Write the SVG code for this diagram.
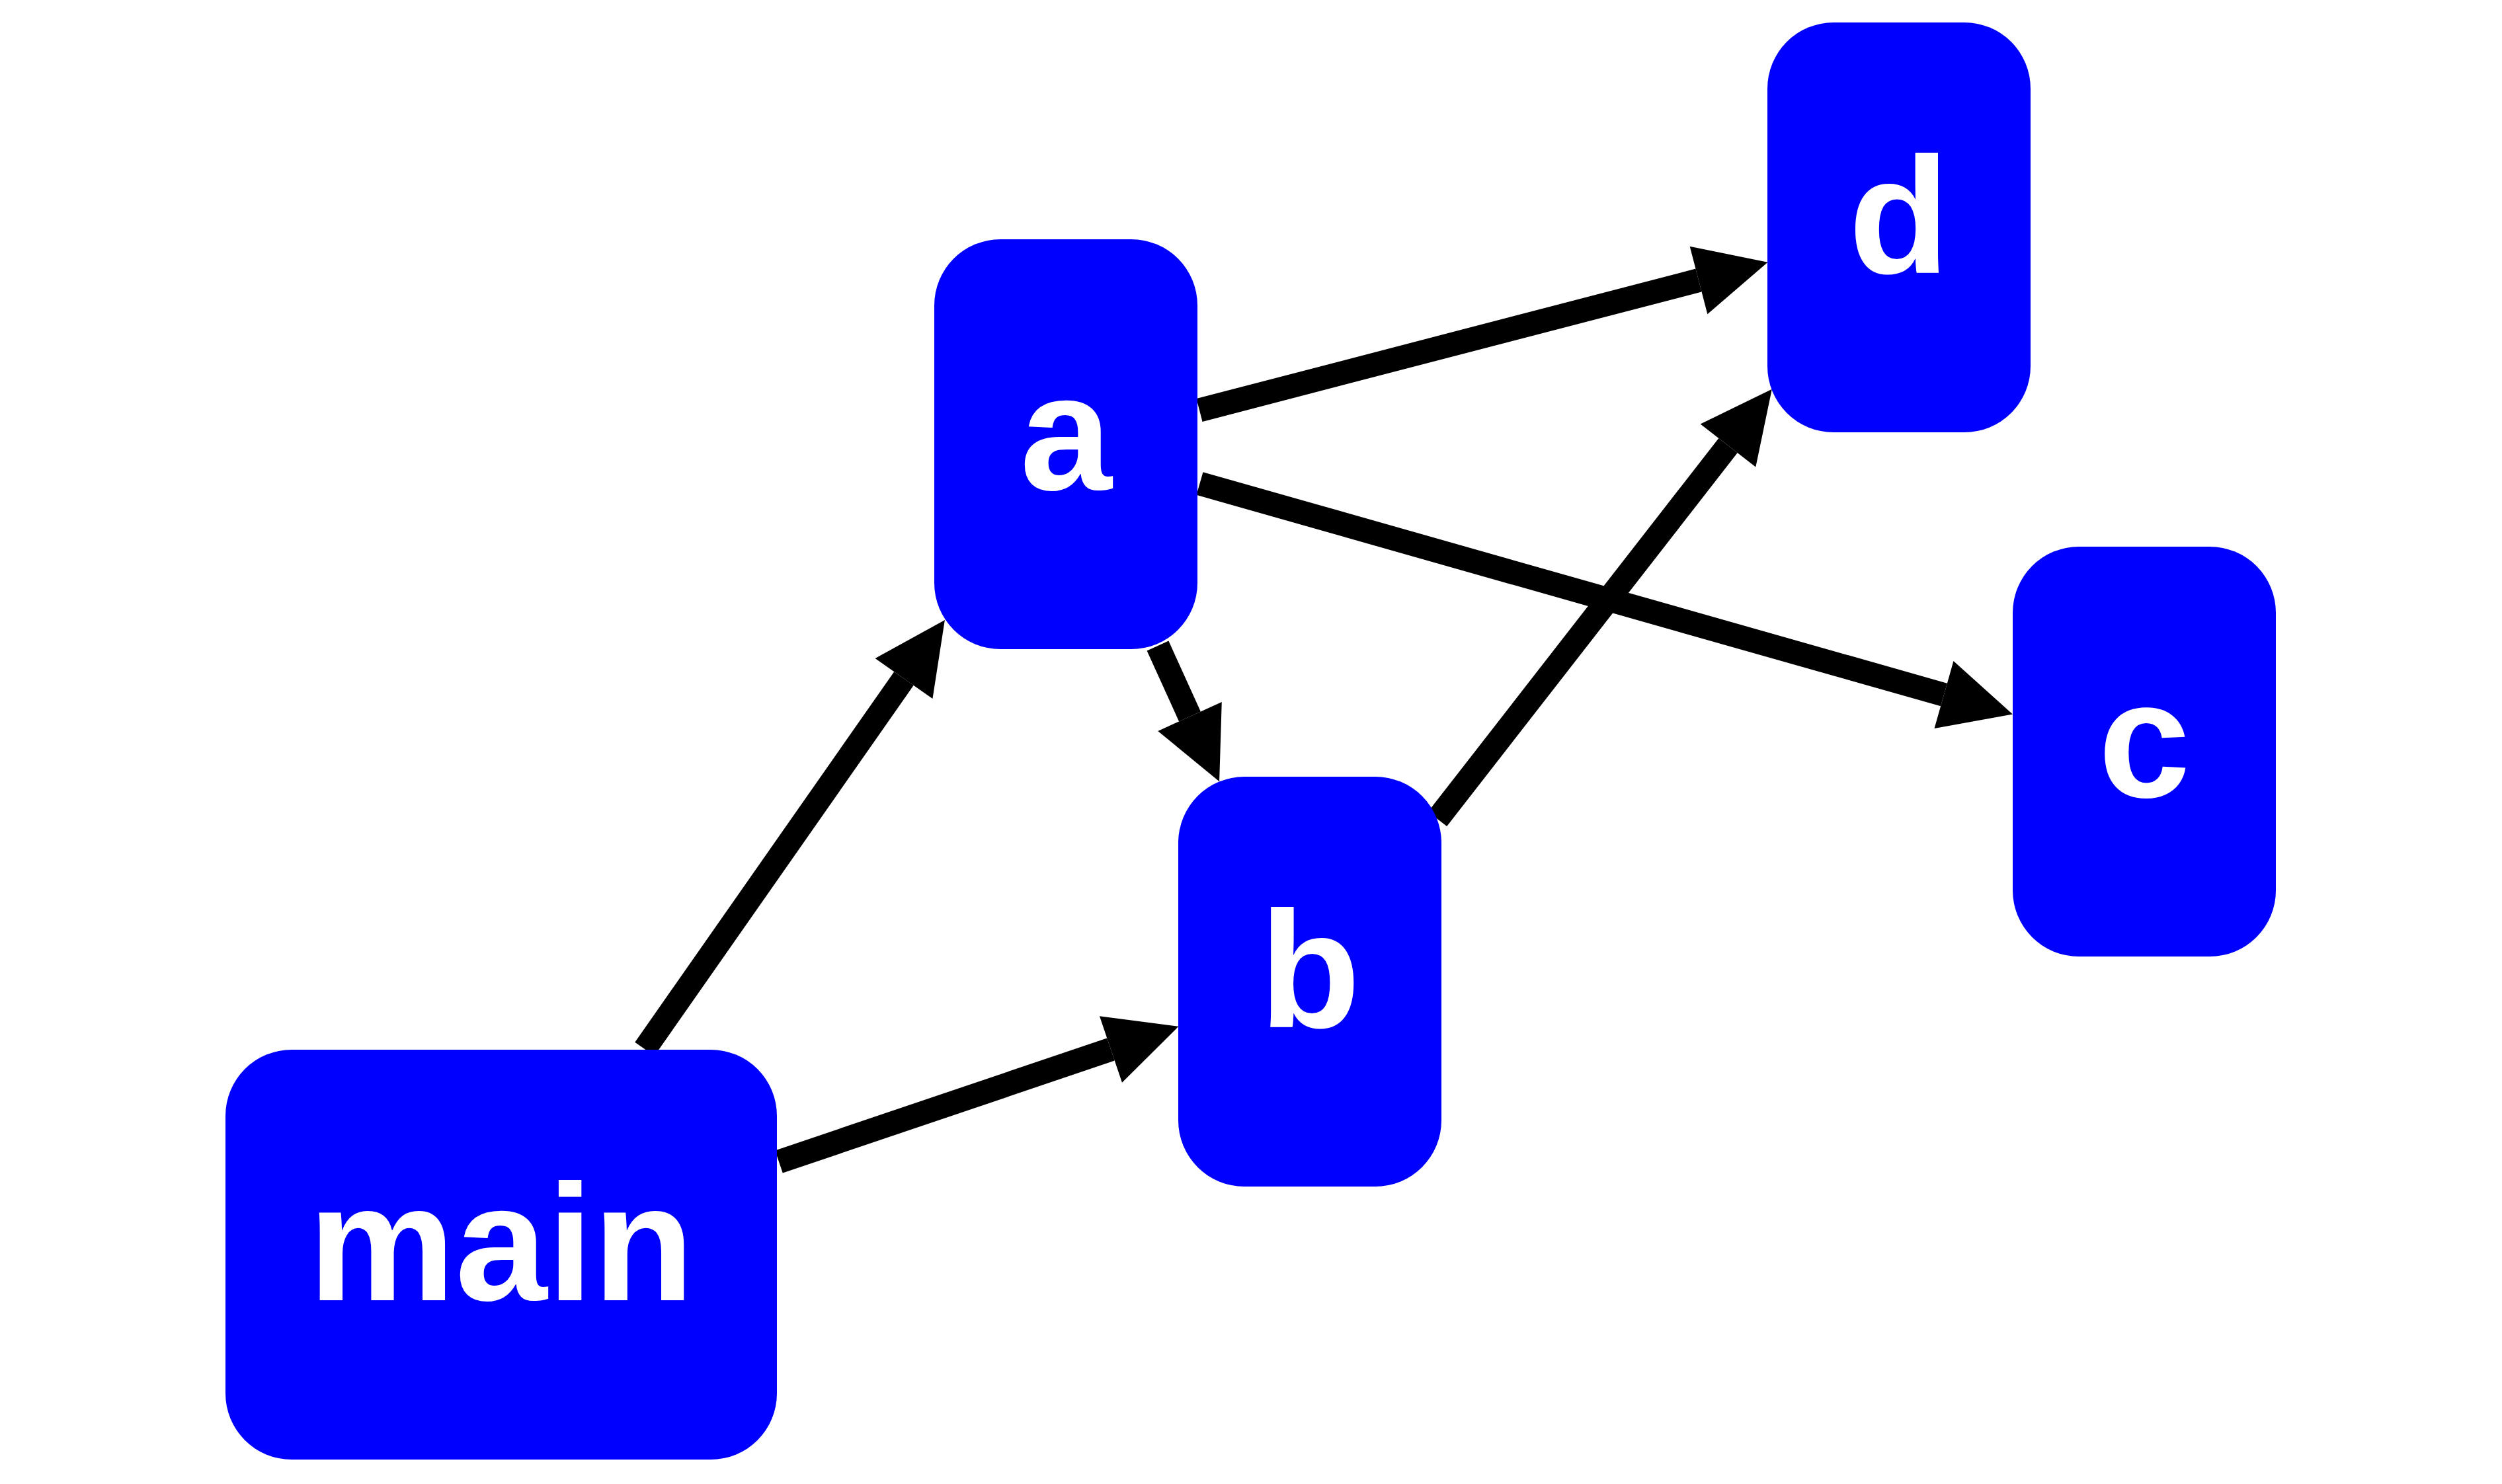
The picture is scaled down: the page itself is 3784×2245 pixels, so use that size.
<svg xmlns="http://www.w3.org/2000/svg" width="3784" height="2245" viewBox="0 0 3784 2245">
<style>
.node rect{fill:#0000ff;}
.node text{fill:#ffffff;font-family:"Liberation Sans",Arial,sans-serif;font-weight:bold;font-size:250px;text-anchor:middle;}
.edge{stroke:#000000;stroke-width:36;fill:none;stroke-linecap:butt;marker-end:url(#arrow);}
</style>
<defs>
<marker id="arrow" markerUnits="userSpaceOnUse" markerWidth="108" markerHeight="106" refX="0" refY="53" orient="auto" overflow="visible">
<path d="M0,0 L108,53 L0,106 Z" fill="#000000"/>
</marker>
</defs>
<rect width="3784" height="2245" fill="#ffffff"/>
<g id="edges">
<path class="edge" d="M975,1587 L1367,1026.5"/>
<path class="edge" d="M1178,1757.5 L1680,1587.5"/>
<path class="edge" d="M1751,977 L1799.5,1084"/>
<path class="edge" d="M1814,620.5 L2569,424"/>
<path class="edge" d="M1814.5,731.5 L2940,1051"/>
<path class="edge" d="M2174,1239 L2613.5,674"/>
</g>
<g id="node-main" class="node"><rect x="341" y="1588" width="834" height="620" rx="100" ry="100"/><text x="758" y="1967">main</text></g>
<g id="node-a" class="node"><rect x="1413" y="362" width="398" height="620" rx="100" ry="100"/><text x="1612" y="741">a</text></g>
<g id="node-b" class="node"><rect x="1782" y="1175" width="398" height="620" rx="100" ry="100"/><text x="1981" y="1554">b</text></g>
<g id="node-d" class="node"><rect x="2673" y="34" width="398" height="620" rx="100" ry="100"/><text x="2872" y="413">d</text></g>
<g id="node-c" class="node"><rect x="3044" y="827" width="398" height="620" rx="100" ry="100"/><text x="3243" y="1206">c</text></g>
</svg>
